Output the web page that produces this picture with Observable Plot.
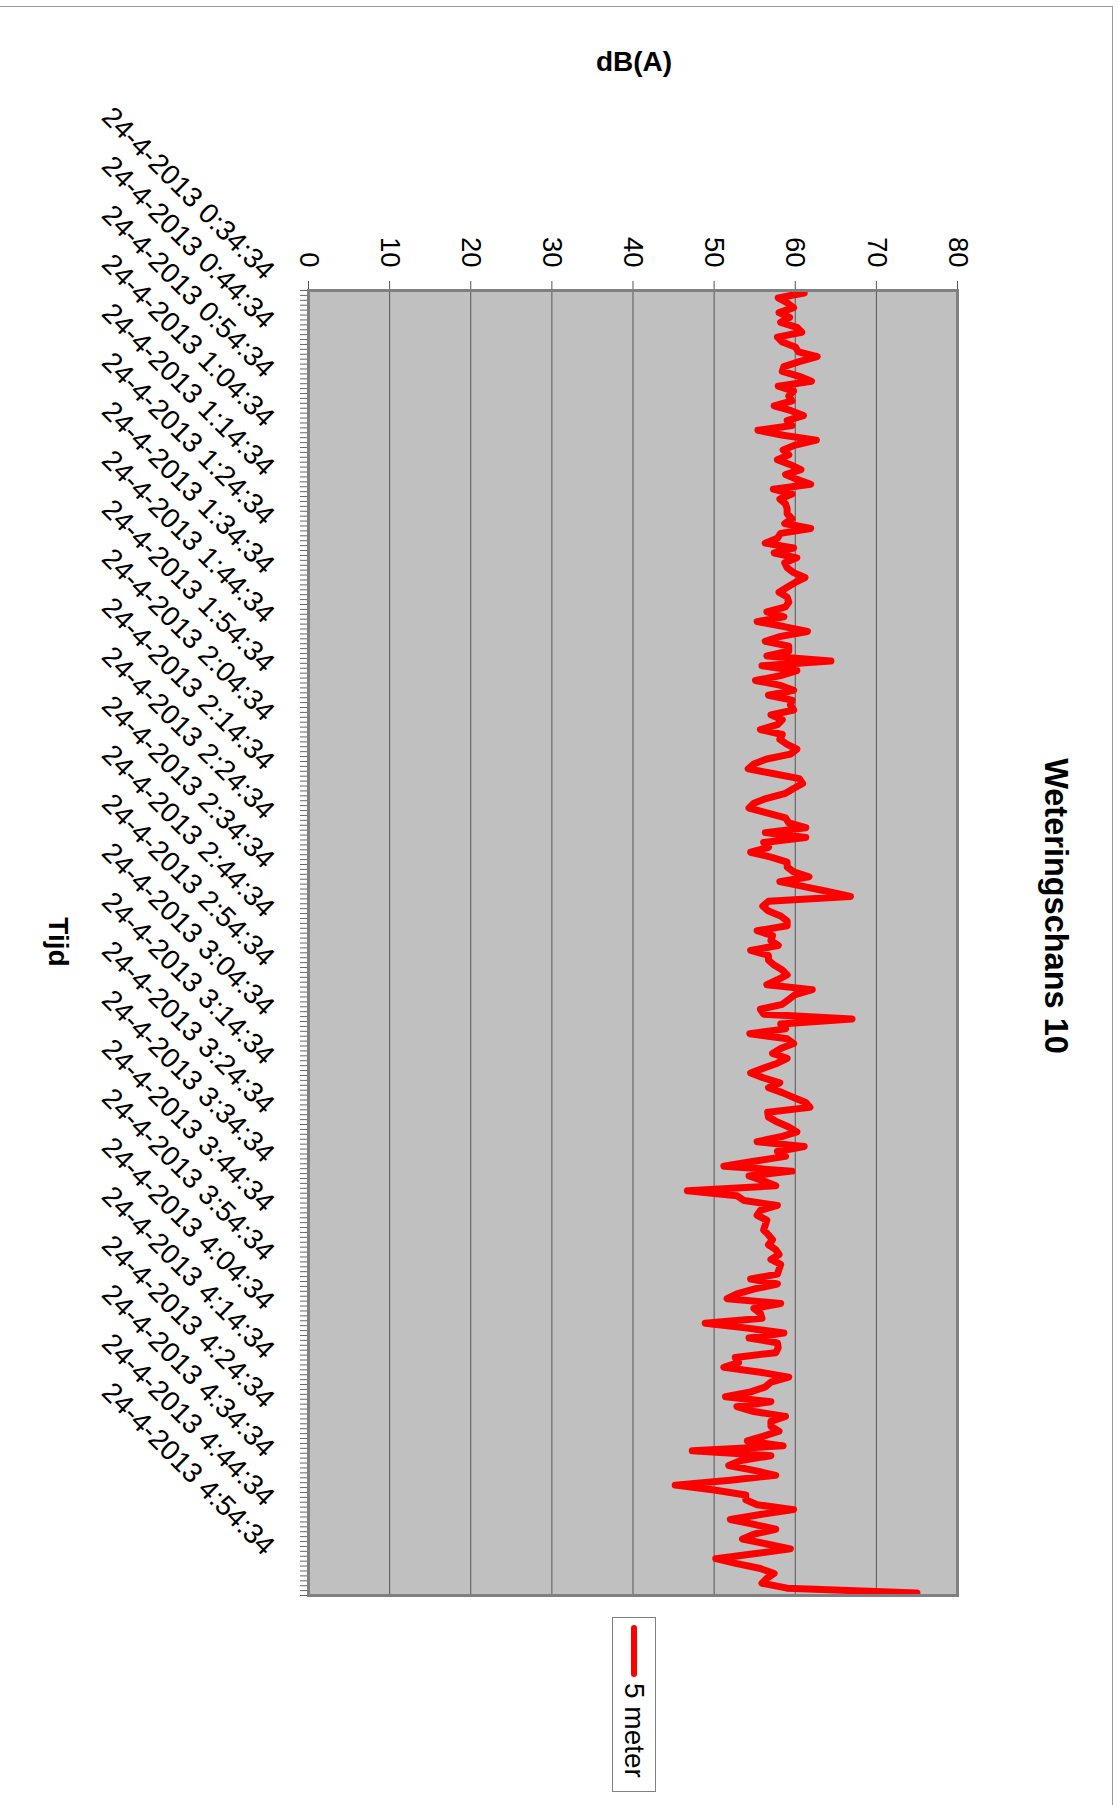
<!DOCTYPE html>
<html>
<head>
<meta charset="utf-8">
<script src="https://cdn.jsdelivr.net/npm/d3@7"></script>
<script src="https://cdn.jsdelivr.net/npm/@observablehq/plot@0.6"></script>
<style>
  html, body { margin: 0; padding: 0; background: #fff; }
  #page {
    position: absolute; left: 1119px; top: 0;
    width: 1805px; height: 1119px;
    transform-origin: 0 0; transform: rotate(90deg);
    font-family: "Liberation Sans", Arial, sans-serif; color: #000; background: #fff;
  }
  #chart { position: absolute; left: 0; top: 0; }
  .lbl { position: absolute; white-space: nowrap; line-height: 1; transform: translate(-50%, -50%); }
  #title { left: 906px; top: 63px; font-size: 32.5px; font-weight: bold; }
  #ytitle { left: 62px; top: 485px; font-size: 28px; font-weight: bold; transform: translate(-50%, -50%) rotate(-90deg); }
  #xtitle { left: 942px; top: 1061px; font-size: 28px; font-weight: bold; }
  #legend {
    position: absolute; left: 1617px; top: 463px; width: 175px; height: 44px;
    box-sizing: border-box; border: 1px solid #808080; background: #fff;
    display: flex; align-items: center;
  }
  #legend .swatch { margin-left: 7px; width: 52px; height: 6px; background: #ff0000; border-radius: 3px; }
  #legend .txt { margin-left: 6px; font-size: 28px; line-height: 1; }
  #frame { position: absolute; left: 6px; top: 6px; width: 1799px; height: 1113px; border-left: 1px solid #999; border-top: 1px solid #999; box-sizing: border-box; pointer-events: none; }
</style>
</head>
<body>
<div id="page">
  <div id="frame"></div>
  <div id="chart"></div>
  <div class="lbl" id="title">Weteringschans 10</div>
  <div class="lbl" id="ytitle">dB(A)</div>
  <div class="lbl" id="xtitle">Tijd</div>
  <div id="legend"><div class="swatch"></div><div class="txt">5 meter</div></div>
</div>
<script>
// Series name
const seriesName = "5 meter";

// dB(A) values, one per minute from 24-4-2013 0:34:34
const values = [
  61.1, 57.9, 59.0, 59.8, 58.0, 59.3, 58.2, 60.2, 60.8, 57.8,
  58.4, 60.0, 60.4, 62.7, 60.5, 58.6, 58.4, 60.5, 62.0, 57.9,
  59.8, 59.2, 59.6, 57.4, 59.5, 61.0, 59.0, 59.6, 55.4, 58.5,
  62.6, 60.0, 58.5, 59.2, 57.8, 59.4, 60.7, 58.8, 60.2, 61.9,
  57.3, 59.6, 58.1, 58.8, 59.0, 59.0, 59.6, 58.7, 61.9, 58.2,
  57.8, 56.3, 59.8, 57.4, 60.2, 58.7, 59.0, 59.8, 61.2, 60.0,
  59.0, 58.0, 59.0, 59.2, 58.8, 56.5, 58.6, 55.3, 58.6, 61.5,
  58.2, 56.3, 59.2, 59.2, 56.5, 64.4, 55.9, 60.2, 58.2, 55.1,
  58.2, 59.8, 56.7, 59.6, 59.4, 59.8, 57.0, 58.4, 57.8, 55.7,
  58.4, 58.1, 59.0, 60.2, 59.4, 56.5, 54.9, 54.2, 57.4, 60.5,
  60.9, 59.8, 58.8, 56.5, 54.9, 54.3, 56.5, 58.8, 59.2, 61.3,
  56.3, 61.3, 56.1, 56.7, 54.5, 57.0, 59.0, 59.0, 59.8, 61.7,
  58.1, 61.1, 64.0, 66.8, 56.7, 56.0, 56.7, 58.2, 59.0, 59.0,
  55.3, 57.2, 57.0, 57.9, 54.5, 56.7, 56.7, 57.4, 58.4, 59.0,
  57.8, 56.5, 62.1, 60.0, 59.2, 58.4, 55.7, 56.1, 67.0, 58.2,
  58.8, 54.4, 59.0, 59.8, 58.2, 57.2, 59.0, 57.8, 56.1, 54.5,
  56.1, 58.1, 56.7, 58.4, 59.8, 61.3, 61.8, 56.6, 56.7, 57.8,
  59.2, 60.2, 58.2, 55.3, 61.1, 57.8, 58.8, 54.9, 51.2, 59.6,
  54.3, 56.1, 57.6, 46.7, 52.8, 53.7, 57.8, 55.7, 55.3, 56.5,
  56.3, 56.1, 56.7, 57.2, 56.7, 57.6, 58.0, 57.0, 58.2, 58.0,
  57.8, 54.5, 57.8, 55.0, 52.8, 51.6, 58.2, 54.9, 55.7, 55.9,
  48.9, 54.1, 58.6, 54.3, 57.8, 57.9, 57.6, 52.6, 53.0, 51.2,
  55.7, 59.2, 57.0, 56.3, 54.5, 51.4, 57.0, 52.8, 54.9, 58.8,
  57.0, 57.0, 58.0, 56.1, 54.1, 58.5, 47.3, 57.0, 53.3, 51.8,
  54.9, 57.6, 52.0, 45.2, 50.0, 53.9, 53.9, 55.3, 59.8, 55.7,
  52.0, 54.9, 57.6, 54.9, 53.5, 56.5, 59.4, 54.9, 50.2, 52.8,
  55.7, 57.4, 56.5, 55.9, 59.0, 75.0
];

// Category axis labels (every 10th category) and their category positions
const timeLabels = [
  "24-4-2013 0:34:34", "24-4-2013 0:44:34", "24-4-2013 0:54:34", "24-4-2013 1:04:34",
  "24-4-2013 1:14:34", "24-4-2013 1:24:34", "24-4-2013 1:34:34", "24-4-2013 1:44:34",
  "24-4-2013 1:54:34", "24-4-2013 2:04:34", "24-4-2013 2:14:34", "24-4-2013 2:24:34",
  "24-4-2013 2:34:34", "24-4-2013 2:44:34", "24-4-2013 2:54:34", "24-4-2013 3:04:34",
  "24-4-2013 3:14:34", "24-4-2013 3:24:34", "24-4-2013 3:34:34", "24-4-2013 3:44:34",
  "24-4-2013 3:54:34", "24-4-2013 4:04:34", "24-4-2013 4:14:34", "24-4-2013 4:24:34",
  "24-4-2013 4:34:34", "24-4-2013 4:44:34", "24-4-2013 4:54:34"
];
const timeLabelPos = [0, 10, 20, 30, 40, 50, 60, 70, 80, 90, 100, 110, 120, 130,
  140, 150, 160, 170, 180, 190, 200, 210, 220, 230, 240, 250, 260];

// dB axis ticks and gridlines
const yTicks = [0, 10, 20, 30, 40, 50, 60, 70, 80];
const gridTicks = [10, 20, 30, 40, 50, 60, 70];

// category boundaries (minor tick marks between categories)
const boundaries = d3.range(values.length + 1).map(i => i - 0.5);

const chart = Plot.plot({
  width: 1805,
  height: 1119,
  marginLeft: 290,
  marginRight: 210,
  marginTop: 161,
  marginBottom: 309,
  style: { fontFamily: "'Liberation Sans', Arial, sans-serif", fontSize: "27px", background: "transparent", color: "#000", overflow: "visible" },
  x: { domain: [-0.5, values.length - 0.5], label: null },
  y: { domain: [0, 80], label: null },
  marks: [
    Plot.frame({ fill: "#c0c0c0" }),
    Plot.gridY({ ticks: gridTicks, stroke: "#555", strokeOpacity: 1, strokeWidth: 1 }),
    Plot.axisY({ ticks: yTicks, tickSize: 9, tickPadding: 14, stroke: "#555", fontSize: 27.5, label: null }),
    Plot.axisX({ ticks: boundaries, tickSize: 9, tickFormat: () => "", stroke: "#666", label: null }),
    Plot.axisX({
      ticks: timeLabelPos,
      tickFormat: d => timeLabels[timeLabelPos.indexOf(d)],
      tickSize: 0, tickPadding: 39, tickRotate: -45, dx: -18, fontSize: 28.2, label: null
    }),
    Plot.lineY(values, { x: (d, i) => i, y: d => d, stroke: "#ff0000", strokeWidth: 7, strokeLinejoin: "round", strokeLinecap: "round" }),
    Plot.frame({ stroke: "#808080", strokeWidth: 3 })
  ]
});
document.getElementById("chart").appendChild(chart);
</script>
</body>
</html>
